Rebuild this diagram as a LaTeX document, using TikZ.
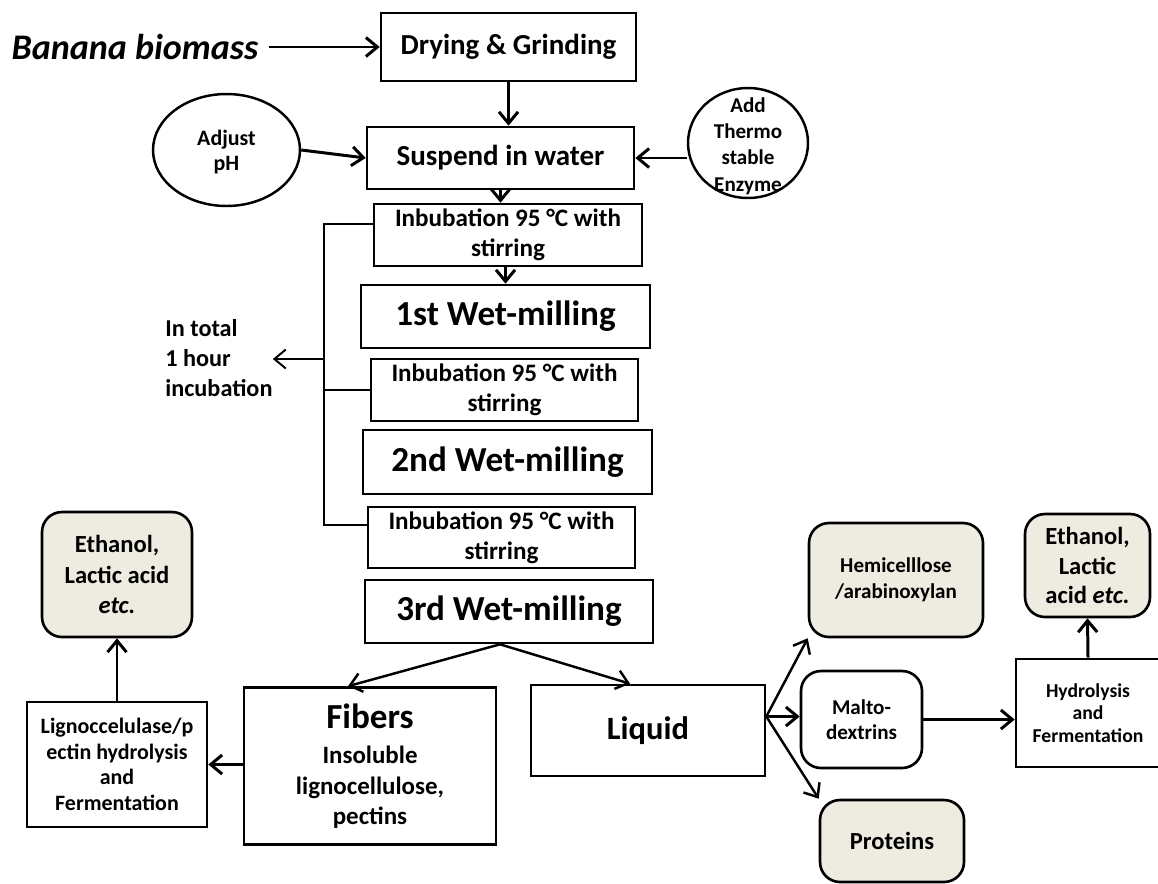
\documentclass[tikz,border=0pt]{standalone}
\usepackage{fontspec}
\setmainfont{Carlito}
\usetikzlibrary{arrows.meta,positioning,calc,shapes.geometric}
\definecolor{prodbeige}{RGB}{238,236,225}
\newcommand{\fsz}[2]{\fontsize{#1pt}{#2pt}\selectfont}

\tikzset{
  stepbox/.style={rectangle, draw, line width=1.5pt, inner sep=0pt, align=center},
  roundbox/.style={stepbox, rounded corners=0.4cm},
  prodbox/.style={roundbox, fill=prodbeige},
  ovalbox/.style={ellipse, draw, line width=1.4pt, inner sep=0pt},
  flow/.style={->, line width=1.7pt},
  diag/.style={->, line width=1.4pt},
  bracket/.style={line width=1.1pt},
}

\begin{document}
\begin{tikzpicture}[x=0.02cm, y=-0.02cm, >={Straight Barb[length=2.3mm,width=3.8mm]}]
    \clip (0,0) rectangle (1158,883);

    % Pretreatment
    \node[inner sep=6pt, font=\bfseries\itshape\fsz{20.5}{24}] (banana) at (135,47) {Banana biomass};
    \node[stepbox, minimum width=5.1cm, minimum height=1.36cm, font=\bfseries\fsz{16.5}{19}] (dry) at (508.5,47) {Drying \& Grinding};
    \node[stepbox, minimum width=5.34cm, minimum height=1.24cm, font=\bfseries\fsz{16.5}{19}] (susp) at (500.5,158) {Suspend in water};
    \node[ovalbox, minimum width=2.94cm, minimum height=2.24cm, font=\bfseries\fsz{12.5}{14.2}] (adj) at (226.5,150)
        {\raisebox{-4.5pt}[0pt][0pt]{\begin{tabular}{@{}c@{}}Adjust\\pH\end{tabular}}};
    \node[ovalbox, minimum width=2.4cm, minimum height=2.2cm, font=\bfseries\fsz{12}{14.9}] (enz) at (748,143)
        {\raisebox{-5pt}[0pt][0pt]{\begin{tabular}{@{}c@{}}Add\\Thermo\\stable\\Enzyme\end{tabular}}};

    % Incubation and wet-milling
    \node[stepbox, minimum width=5.36cm, minimum height=1.24cm, font=\bfseries\fsz{14.3}{17}] (inb1) at (508,235) {Inbubation 95 °C with\\stirring};
    \node[stepbox, minimum width=5.78cm, minimum height=1.26cm, font=\bfseries\fsz{20}{24}] (first) at (505.5,316.5) {1st Wet-milling};
    \node[stepbox, minimum width=5.34cm, minimum height=1.24cm, font=\bfseries\fsz{14.3}{17}] (inb2) at (504.5,390) {Inbubation 95 °C with\\stirring};
    \node[stepbox, minimum width=5.78cm, minimum height=1.28cm, font=\bfseries\fsz{20}{24}] (second) at (507.5,462) {2nd Wet-milling};
    \node[stepbox, minimum width=5.34cm, minimum height=1.22cm, font=\bfseries\fsz{14.3}{17}] (inb3) at (501.5,537.5) {Inbubation 95 °C with\\stirring};
    \node[stepbox, minimum width=5.76cm, minimum height=1.26cm, font=\bfseries\fsz{20}{24}] (third) at (509,611.5) {3rd Wet-milling};
    \node[anchor=west, inner sep=0pt, align=left, font=\bfseries\fsz{13.8}{17}] (total) at (165,358) {In total\\1 hour\\incubation};

    % Fibers branch
    \node[stepbox, minimum width=5.04cm, minimum height=3.14cm, font=\bfseries\fsz{14.2}{17.3}] (fib) at (370,766)
        {{\fsz{20}{24}Fibers}\\[3pt]Insoluble\\lignocellulose,\\pectins};
    \node[stepbox, minimum width=3.6cm, minimum height=2.5cm, font=\bfseries\fsz{12.5}{14.5}] (lig) at (117,764.5)
        {Lignoccelulase/p\\ectin hydrolysis\\and\\Fermentation};
    \node[prodbox, minimum width=3.0cm, minimum height=2.5cm, font=\bfseries\fsz{14}{17.3}] (eth1) at (117,574.5)
        {Ethanol,\\Lactic acid\\\textit{etc.}};

    % Liquid branch
    \node[stepbox, minimum width=4.68cm, minimum height=1.82cm, font=\bfseries\fsz{18.5}{22}] (liq) at (648,730.5) {Liquid};
    \node[prodbox, minimum width=3.48cm, minimum height=2.28cm, font=\bfseries\fsz{12}{14.7}] (hemi) at (896,580) {Hemicelllose\\/arabinoxylan};
    \node[roundbox, minimum width=2.42cm, minimum height=1.94cm, font=\bfseries\fsz{12}{14.2}] (malto) at (861.5,719.5) {Malto-\\dextrins};
    \node[prodbox, minimum width=2.88cm, minimum height=1.64cm, font=\bfseries\fsz{14}{17}] (prot) at (892,841) {Proteins};
    \node[stepbox, minimum width=2.88cm, minimum height=2.16cm, font=\bfseries\fsz{11.2}{13}] (hydro) at (1088,713) {Hydrolysis\\and\\Fermentation};
    \node[prodbox, minimum width=2.5cm, minimum height=2.06cm, font=\bfseries\fsz{14}{17}] (eth2) at (1087.5,565.5)
        {Ethanol,\\Lactic\\acid \textit{etc.}};

    % Main flow
    \draw[flow] (banana.east) -- (banana.east -| dry.west);
    \draw[flow] (dry.south) -- (dry.south |- susp.north);
    \draw[flow] (adj.east) -- (susp.west);
    \draw[flow] (enz.west |- susp.east) -- (susp.east);
    \draw[flow] (susp.south) -- (susp.south |- inb1.north);
    \draw[flow] (inb1.south -| first.north) -- (first.north);

    % 1 hour bracket
    \coordinate (btop) at (324,224);
    \coordinate (bbot) at (324,525);
    \coordinate (bmid) at (324,359);
    \draw[bracket] (inb1.west |- btop) -- (btop) -- (bbot) -- (inb3.west |- bbot);
    \draw[bracket] (inb2.west) -- (inb2.west -| btop);
    \draw[bracket, ->] (bmid) -- (bmid -| total.east);

    % Separation
    \coordinate (split) at ($(third.south)+(-9,0)$);
    \draw[diag] (split) -- ($(fib.north)+(-22,0)$);
    \draw[diag] (split) -- ($(liq.north)+(-18,0)$);
    \draw[flow] (fib.west |- lig.east) -- (lig.east);
    \draw[flow] (lig.north) -- (eth1.south);

    \coordinate (fork) at ($(liq.east)+(0,-14)$);
    \draw[diag] (fork) -- (hemi.south west);
    \draw[flow] (fork) -- (fork -| malto.west);
    \draw[diag] (fork) -- (prot.north west);
    \draw[flow] (malto.east) -- (malto.east -| hydro.west);
    \draw[flow] (hydro.north) -- (eth2.south);
\end{tikzpicture}
\end{document}
